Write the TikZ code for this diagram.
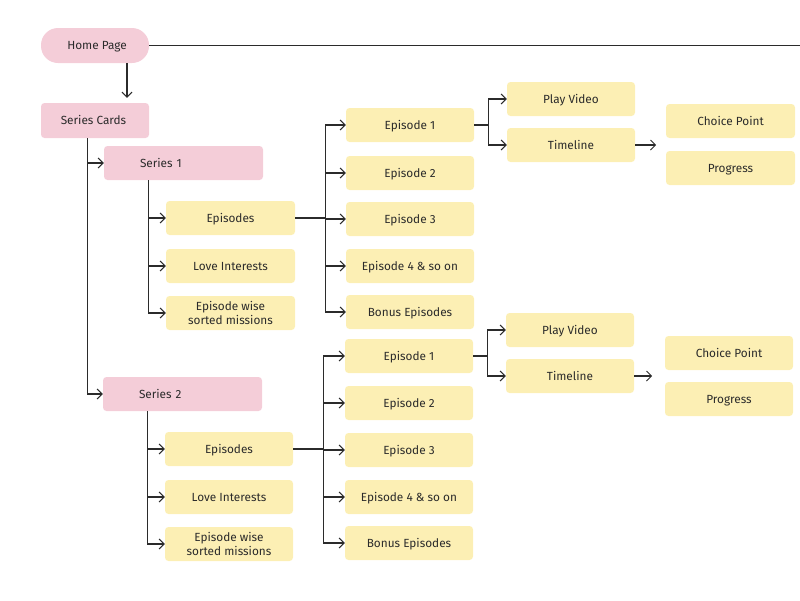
\documentclass[tikz,border=0pt]{standalone}
\usepackage{fontspec}
\setmainfont{Fira Sans}
\usetikzlibrary{arrows.meta}
\definecolor{pinkbox}{HTML}{F4CDD8}
\definecolor{yelbox}{HTML}{FCEFB4}
\definecolor{ink}{HTML}{2B2B2B}
\begin{document}
\begin{tikzpicture}[x=1pt,y=-1pt,
  every node/.style={font=\fontsize{11.8}{13.8}\selectfont, text=ink, inner sep=0pt},
  one/.style={text height=8.3pt, text depth=0pt},
  pinkb/.style={one, fill=pinkbox, rounded corners=3.5pt, minimum width=108pt, minimum height=35pt},
  serb/.style={one, fill=pinkbox, rounded corners=3.5pt, minimum width=159pt, minimum height=34pt, text width=159pt, align=left},
  yelc/.style={fill=yelbox, rounded corners=3.5pt, minimum width=129pt, minimum height=34pt, align=center},
  yelb/.style={yelc, one},
  conn/.style={draw=ink, line width=1.1pt},
  arr/.style={conn, -{Straight Barb[length=5pt,width=10pt,line width=1pt]}}]
\useasboundingbox (0,0) rectangle (800,600);
% top level
\node[pinkb, rounded corners=17pt] (hp) at (95,45.5) {\hspace*{4pt}Home Page};
\node[pinkb] (sc) at (95,120.5) {Series Cards\hspace*{3pt}};
\coordinate (hpend) at (800,46.5);
\draw[conn] (hp.east) -- (hp.east -| hpend);
\draw[arr] ([xshift=32pt]hp.south) -- ([xshift=32pt,yshift=5pt]sc.north);
% series 1
\node[serb] (s1) at (183.5,163) {\hspace*{36pt}Series 1};
\node[yelb] (s1ep) at (230.5,218) {Episodes};
\node[yelb] (s1li) at (230.5,266) {Love Interests};
\node[yelc] (s1sm) at (230.5,313) {Episode wise\\sorted missions};
\node[yelb, minimum width=128pt] (e1) at (410,125) {Episode 1};
\node[yelb, minimum width=128pt] (e2) at (410,173) {Episode 2};
\node[yelb, minimum width=128pt] (e3) at (410,219) {Episode 3};
\node[yelb, minimum width=128pt] (e4) at (410,266) {Episode 4 \& so on};
\node[yelb, minimum width=128pt] (e5) at (410,312) {Bonus Episodes};
\node[yelb, minimum width=128pt] (pv) at (571,99) {Play Video};
\node[yelb, minimum width=128pt] (tl) at (571,145) {Timeline};
\node[yelb] (cp) at (730.5,121) {Choice Point};
\node[yelb] (pg) at (730.5,168) {Progress};
% series 2
\node[serb] (s2) at (182.5,394) {\hspace*{36pt}Series 2};
\node[yelb, minimum width=128pt] (s2ep) at (229,449) {Episodes};
\node[yelb, minimum width=128pt] (s2li) at (229,497) {Love Interests};
\node[yelc, minimum width=128pt] (s2sm) at (229,544) {Episode wise\\sorted missions};
\node[yelb, minimum width=128pt] (f1) at (409,356) {Episode 1};
\node[yelb, minimum width=128pt] (f2) at (409,403) {Episode 2};
\node[yelb, minimum width=128pt] (f3) at (409,450) {Episode 3};
\node[yelb, minimum width=128pt] (f4) at (409,497) {Episode 4 \& so on};
\node[yelb, minimum width=128pt] (f5) at (409,543) {Bonus Episodes};
\node[yelb, minimum width=128pt] (pv2) at (570,330) {Play Video};
\node[yelb, minimum width=128pt] (tl2) at (570,376) {Timeline};
\node[yelb, minimum width=128pt] (cp2) at (729,353) {Choice Point};
\node[yelb, minimum width=128pt] (pg2) at (729,399) {Progress};
% series cards trunk
\draw[arr] ([xshift=47pt]sc.south west) |- (s1.west);
\draw[arr] ([xshift=47pt]sc.south west) |- (s2.west);
% series 1 trunk
\foreach \t in {s1ep,s1li,s1sm} \draw[arr] ([xshift=45pt]s1.south west) |- (\t.west);
\foreach \t in {e1,e2,e3,e4,e5} \draw[arr] (s1ep.east) -- ++(30,0) |- (\t.west);
\foreach \t in {pv,tl} \draw[arr] (e1.east) -- ++(14,0) |- (\t.west);
\coordinate (tlend) at ([xshift=21pt]tl.east);
\draw[arr] (tl.east) -- (tlend);
% series 2 trunk
\foreach \t in {s2ep,s2li,s2sm} \draw[arr] ([xshift=45pt]s2.south west) |- (\t.west);
\foreach \t in {f1,f2,f3,f4,f5} \draw[arr] (s2ep.east) -- ++(30.5,0) |- (\t.west);
\foreach \t in {pv2,tl2} \draw[arr] (f1.east) -- ++(14,0) |- (\t.west);
\coordinate (tl2end) at ([xshift=18pt]tl2.east);
\draw[arr] (tl2.east) -- (tl2end);
\end{tikzpicture}
\end{document}
